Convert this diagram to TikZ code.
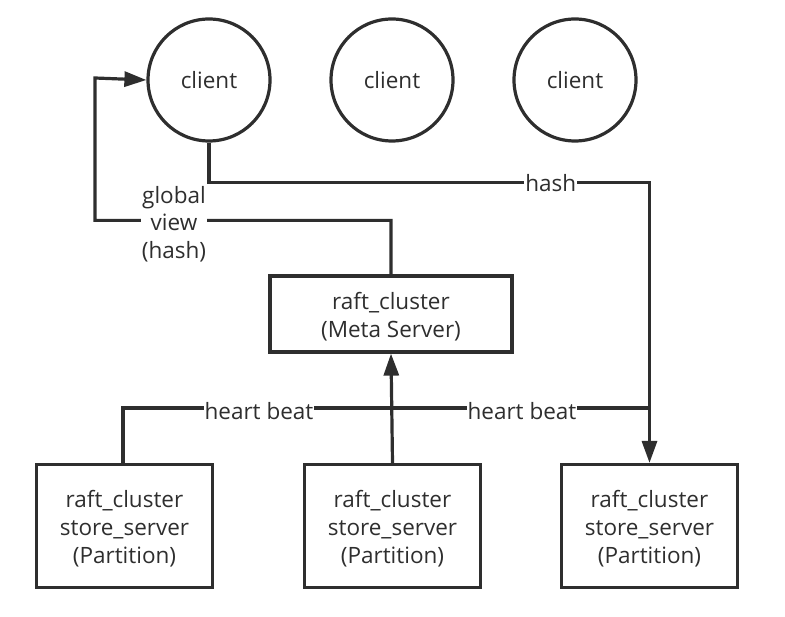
\documentclass[tikz,border=0pt]{standalone}
\usepackage{fontspec}
\setmainfont{Open Sans}
\usetikzlibrary{arrows.meta}
\definecolor{ink}{HTML}{2E2E2E}
\begin{document}
\begin{tikzpicture}[x=1pt,y=-1pt,
  every node/.style={text=ink,font=\fontsize{22.5}{28}\selectfont},
  cl/.style={draw=ink,line width=3.2pt,circle,minimum size=122pt,inner sep=0pt},
  bx/.style={draw=ink,line width=3.2pt,rectangle,align=center,inner sep=0pt},
  boxtext/.style={label={[align=center,yshift=-2.5pt]center:#1}},
  wire/.style={draw=ink,line width=3.2pt},
  arr/.style={wire,-{Triangle[length=22pt,width=15pt]}},
  lbl/.style={fill=white,inner sep=1pt,align=center}]
\useasboundingbox (0,0) rectangle (785,617);
\node[cl] (c1) at (209,80) {client};
\node[cl] (c2) at (392,80) {client};
\node[cl] (c3) at (575,80) {client};
\node[bx,minimum width=242pt,minimum height=76pt,boxtext={raft\_cluster\\(Meta Server)}] (meta) at (391,314) {};
\node[bx,minimum width=176pt,minimum height=123pt,boxtext={raft\_cluster\\store\_server\\(Partition)}] (s1) at (124.5,526) {};
\node[bx,minimum width=176pt,minimum height=123pt,boxtext={raft\_cluster\\store\_server\\(Partition)}] (s2) at (392.5,526) {};
\node[bx,minimum width=176pt,minimum height=123pt,boxtext={raft\_cluster\\store\_server\\(Partition)}] (s3) at (649.5,526) {};
\coordinate (j) at (650,408);
% hash
\draw[arr] (c1.south) -- ++(0,40) -| node[lbl,pos=0.388] {hash} (s3.north);
% global view
\draw[arr] (meta.north) -- ++(0,-54) -| (95,78) -- (c1.west);
\node[lbl,font=\fontsize{22.5}{27.5}\selectfont] (gv) at (174,224) {global\\view\\(hash)};
% heart beats
\draw[wire] (s1.north-|123,0) |- (j);
\draw[arr] (s2.north) -- (meta.south);
\node[lbl] (hb1) at (259,411) {heart beat};
\node[lbl] (hb2) at (522,411) {heart beat};
\end{tikzpicture}
\end{document}
